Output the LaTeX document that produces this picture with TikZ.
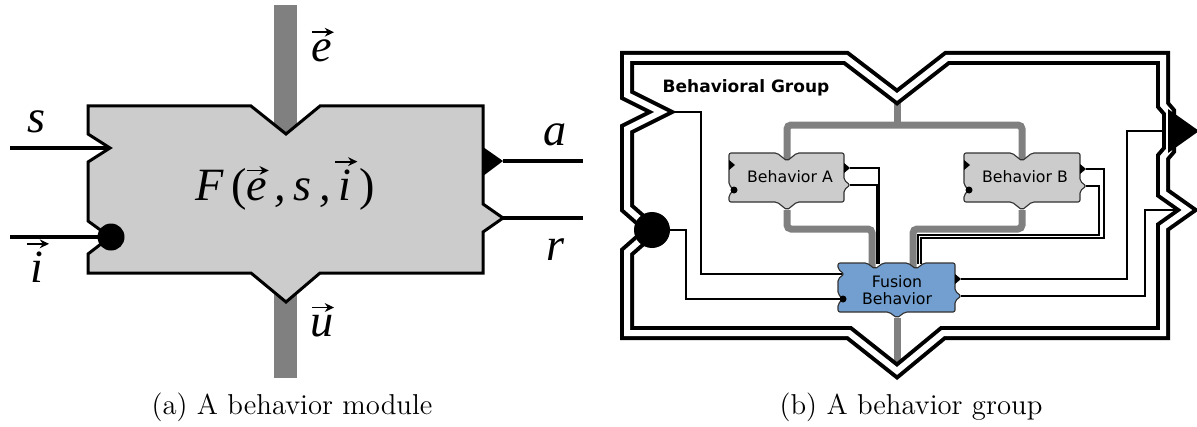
\documentclass[tikz,border=0pt]{standalone}
\usepackage{fontspec}
\usetikzlibrary{arrows.meta}
\newfontfamily\tms{Liberation Serif}
\newfontfamily\dvs{DejaVu Sans}
\definecolor{boxg}{RGB}{204,204,204}
\definecolor{barg}{RGB}{128,128,128}
\definecolor{fuse}{RGB}{114,159,207}
\definecolor{edgeg}{RGB}{50,50,50}
% vector letter: an arrow set over the glyph
\newlength\vvh
\newcommand\vv[1]{\settoheight\vvh{#1}\ooalign{#1\cr
  \hidewidth\kern0.04em\raisebox{\dimexpr\vvh+0.17em\relax}{\tikz[x=1pt,y=1pt,baseline=0pt]
  \draw[line width=0.75pt,-{Stealth[length=0.2em,width=0.19em]}] (0,0)--(0.48em,0);}\hidewidth\cr}}
\begin{document}
\begin{tikzpicture}[x=0.4pt,y=-0.4pt,
  bar/.style={draw=barg, line width=9.2pt},
  portln/.style={line width=1.8pt},
  modbox/.style={fill=boxg, draw=black, line width=1.2pt, line join=miter},
  bus/.style={draw=barg, line width=2.8pt, rounded corners=1.6pt},
  wire/.style={line width=0.45pt},
  grp/.style={draw=black, line width=1.6pt, double=white, double distance=2.4pt, line join=miter, miter limit=20},
  sbox/.style={draw=edgeg, line width=0.45pt, rounded corners=0.8pt},
  lbl/.style={font=\tms\fontsize{18.5}{20}\selectfont\itshape, inner sep=0},
  sml/.style={font=\dvs\fontsize{6.3}{7}\selectfont, inner sep=0, align=center},
  captxt/.style={font=\fontsize{11.5}{13}\selectfont, inner sep=0}]
\useasboundingbox (0,0) rectangle (1197,426);

% ---------------- (a) single behavior module ----------------
\coordinate (eTop) at (285.5,5);   \coordinate (eTip) at (285.5,134);
\coordinate (uTip) at (285.5,290); \coordinate (uEnd) at (285.5,378);
\coordinate (sFrom) at (10,148);   \coordinate (sTip) at (110,148);
\coordinate (iFrom) at (10,237);   \coordinate (iTip) at (104,237);
\coordinate (aTip) at (503,161);   \coordinate (aTo) at (583,161);
\coordinate (rTip) at (503,218);   \coordinate (rTo) at (583,218);

\draw[bar] (eTop) -- (eTip);
\draw[bar] (uTip) -- (uEnd);
\draw[portln] (sFrom) -- (sTip);
\draw[portln] (iFrom) -- (iTip);
\draw[portln] (aTip) -- (aTo);
\draw[portln] (rTip) -- (rTo);

\draw[modbox] (88,106) -- (251,106) -- (286,134) -- (320,106) -- (483,106)
  -- (483,204) -- (503,218) -- (483,232) -- (483,273) -- (320,273)
  -- (286,302) -- (251,273) -- (88,273) -- (88,254) -- (110,237)
  -- (88,221) -- (88,162) -- (110,148) -- (88,134) -- cycle;
\fill[line join=miter] (483,147) -- (aTip) -- (483,176) -- cycle;
\fill (111,237) circle [radius=5.4pt];

\node[font=\tms\fontsize{18.5}{20}\selectfont\itshape, inner sep=0] (fn) at (285,189)
  {F\,{\upshape(}\vv{e}\,,\,s\,,\,\vv{i}\,{\upshape)}};
\node[lbl] (ls) at (36,122) {s};
\node[lbl] (le) at (322,51) {\vv{e}};
\node[lbl] (la) at (555,135) {a};
\node[lbl] (lr) at (555,250) {r};
\node[lbl] (li) at (37,267) {\vv{i}};
\node[lbl] (lu) at (322,326) {\vv{u}};
\node[captxt] (capa) at (292,407) {(a) A behavior module};

% ---------------- (b) behavioral group ----------------
% group ports
\coordinate (gS) at (661,112);  \coordinate (gI) at (652,230);
\coordinate (gA) at (1168,131); \coordinate (gR) at (1187,210);
\coordinate (gE) at (897,97);   \coordinate (gU) at (897,371);
% inner module ports
\coordinate (Aa) at (850,168); \coordinate (Ar) at (850,185);
\coordinate (Ba) at (1086,169); \coordinate (Br) at (1086,186);
\coordinate (Fs) at (844,274); \coordinate (Fi) at (843,299);
\coordinate (Fa) at (961,279); \coordinate (Fr) at (961,296);

% environment bus
\draw[bus] (gE) -- (897,125);
\draw[bus] (787,161) -- (787,125) -- (1022,125) -- (1022,161);
\draw[bus] (787,210) -- (787,229) -- (872,229) -- (872,267);
\draw[bus] (1022,210) -- (1022,229) -- (913,229) -- (913,267);
\draw[bus] (897,318) -- (gU);

% signal wires
\draw[wire] (gS) -- (701,112) -- (701,274) -- (Fs);
\draw[wire] (gI) -- (686,230) -- (686,299) -- (Fi);
\draw[wire] (Aa) -- (879,168) -- (879,264);
\draw[wire] (Ar) -- (877,185) -- (877,264);
\draw[wire] (Ba) -- (1104,169) -- (1104,238) -- (921,238) -- (921,264);
\draw[wire] (Br) -- (1099,186) -- (1099,235) -- (918,235) -- (918,264);
\draw[wire] (Fa) -- (1127,279) -- (1127,131) -- (gA);
\draw[wire] (Fr) -- (1145,296) -- (1145,210) -- (gR);

% double outline of the group
\draw[grp] (627,58) -- (846,58) -- (gE) -- (947,58) -- (1163,58) -- (1163,105)
  -- (1169,112) -- (1169,150) -- (1163,157) -- (1163,193)
  -- (gR) -- (1163,227) -- (1163,333) -- (943,333) -- (gU) -- (849,333)
  -- (627,333) -- (627,252) -- (gI) -- (627,208) -- (627,129) -- (gS)
  -- (627,95) -- cycle;
\fill[line join=miter] (1168,109) -- (1199,131) -- (1168,153) -- cycle;
\fill (gI) circle [radius=7.2pt];
\node[font=\dvs\bfseries\fontsize{6.8}{8}\selectfont, inner sep=0] (gname) at (746,88) {Behavioral Group};

% Behavior A
\draw[sbox, fill=boxg] (729,153) -- (777,153) -- (787,161) -- (797,153) -- (844,153)
  -- (844,180) -- (Ar) -- (844,190) -- (844,202) -- (797,202) -- (787,210)
  -- (777,202) -- (729,202) -- (729,195) -- (734,190) -- (729,185) -- cycle;
\fill (729,160) -- (735,165) -- (729,170) -- cycle;
\fill (844,163) -- (Aa) -- (844,173) -- cycle;
\fill (734,190) circle [radius=1.4pt];
\node[sml] (bA) at (790,177) {Behavior A};

% Behavior B
\draw[sbox, fill=boxg] (964,153) -- (1012,153) -- (1022,161) -- (1032,153) -- (1080,153)
  -- (1080,181) -- (Br) -- (1080,191) -- (1080,202) -- (1032,202) -- (1022,210)
  -- (1012,202) -- (964,202) -- (964,195) -- (969,190) -- (964,185) -- cycle;
\fill (964,160) -- (970,165) -- (964,170) -- cycle;
\fill (1080,164) -- (Ba) -- (1080,174) -- cycle;
\fill (969,190) circle [radius=1.4pt];
\node[sml] (bB) at (1025,177) {Behavior B};

% Fusion behavior
\draw[sbox, fill=fuse] (838,263) -- (867,263) -- (875,269) -- (883,263) -- (908,263)
  -- (916,269) -- (924,263) -- (955,263) -- (955,291) -- (Fr) -- (955,301)
  -- (955,312) -- (905,312) -- (897,318) -- (889,312) -- (838,312) -- (838,304)
  -- (Fi) -- (838,294) -- (838,279) -- (Fs) -- (838,269) -- cycle;
\fill (955,274) -- (Fa) -- (955,284) -- cycle;
\fill (Fi) circle [radius=1.4pt];
\node[sml] (bF) at (897,290) {Fusion\\Behavior};

\node[captxt] (capb) at (911,407) {(b) A behavior group};
\end{tikzpicture}
\end{document}
